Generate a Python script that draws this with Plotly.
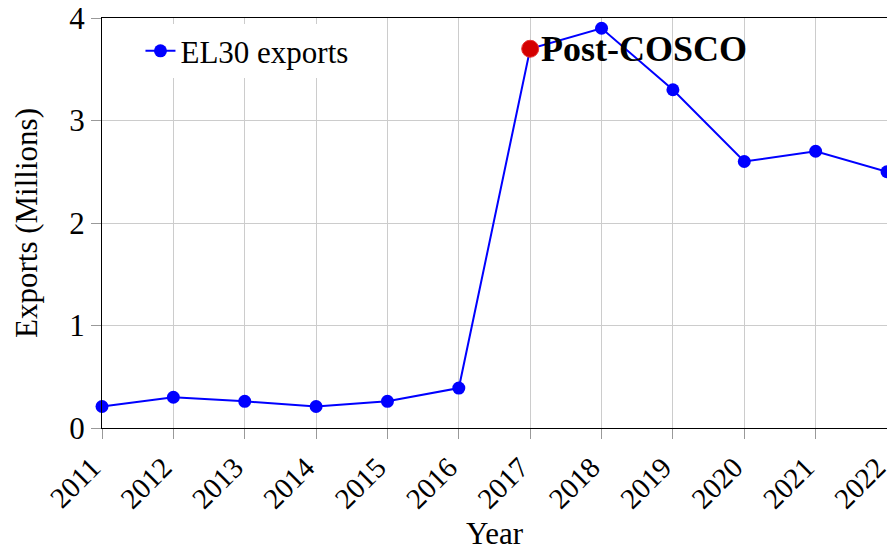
import plotly.graph_objects as go

years = [2011, 2012, 2013, 2014, 2015, 2016, 2017, 2018, 2019, 2020, 2021, 2022]
exports = [0.21, 0.30, 0.26, 0.21, 0.26, 0.39, 3.70, 3.90, 3.30, 2.60, 2.70, 2.50]
highlight_year = [2017]
highlight_value = [3.70]
highlight_label = "Post-COSCO"
series_name = "EL30 exports"
y_ticks = [0, 1, 2, 3, 4]

FONT = "Liberation Serif"
FS = 31
TFS = 29

fig = go.Figure()
fig.add_trace(go.Scatter(
    x=years, y=exports, mode="lines+markers", name=series_name,
    line=dict(color="#0000ff", width=2),
    marker=dict(color="#0000ff", size=13),
    cliponaxis=False,
))
fig.add_trace(go.Scatter(
    x=highlight_year, y=highlight_value, mode="markers", showlegend=False,
    marker=dict(color="#d40000", size=17, line=dict(color="#e83030", width=1)),
    cliponaxis=False,
))
fig.add_annotation(
    x=highlight_year[0], y=highlight_value[0], text="<b>" + highlight_label + "</b>",
    showarrow=False, xanchor="left", yanchor="middle", xshift=9,
    font=dict(family=FONT, size=36, color="black"),
)

axis_common = dict(
    showline=True, linecolor="black", linewidth=1, mirror=True,
    showgrid=True, gridcolor="#cccccc", gridwidth=1,
    ticks="outside", ticklen=10, tickcolor="#999999", tickwidth=1,
    zeroline=False, automargin=False,
)

fig.update_layout(
    width=887, height=551,
    margin=dict(l=102, r=0, t=18, b=123),
    paper_bgcolor="white", plot_bgcolor="white",
    font=dict(family=FONT, size=FS, color="black"),
    xaxis=dict(
        range=[2011, 2022], tickmode="array", tickvals=years,
        ticktext=[str(y) for y in years], tickangle=-45,
        ticklabeloverflow="allow", ticklabelshift=-10,
        tickfont=dict(family=FONT, size=TFS, color="black"),
        title=dict(text="Year", font=dict(family=FONT, size=FS), standoff=23),
        **axis_common,
    ),
    yaxis=dict(
        range=[0, 4], tickmode="array", tickvals=y_ticks,
        ticktext=[str(v) for v in y_ticks],
        tickfont=dict(family=FONT, size=FS, color="black"),
        title=dict(text="Exports (Millions)", font=dict(family=FONT, size=FS), standoff=22),
        **axis_common,
    ),
    legend=dict(
        x=0.049, y=0.985, xanchor="left", yanchor="top",
        bgcolor="white", borderwidth=0,
        font=dict(family=FONT, size=FS, color="black"),
    ),
    showlegend=True,
)

fig.write_html("out.html")
